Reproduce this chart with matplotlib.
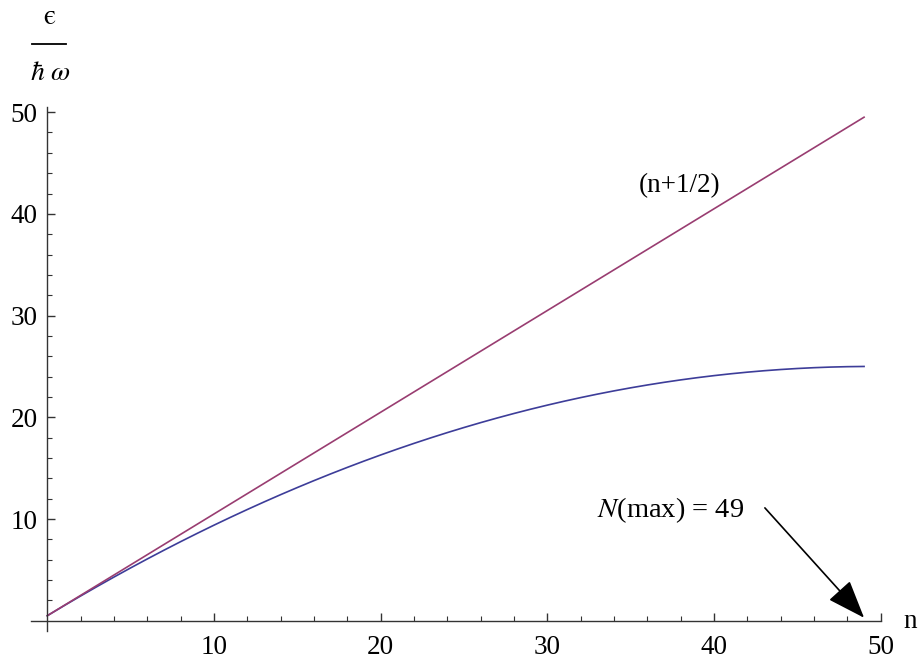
import matplotlib
matplotlib.use("Agg")
import matplotlib.pyplot as plt
from matplotlib.ticker import FixedLocator

plt.rcParams['font.family'] = ['Liberation Serif', 'DejaVu Serif']
plt.rcParams['mathtext.fontset'] = 'stix'

# Data
n_vals = list(range(0, 50))
energy_anharmonic = [0.50, 1.48, 2.44, 3.38, 4.30, 5.20, 6.08, 6.94, 7.78, 8.60,
                     9.40, 10.18, 10.94, 11.68, 12.40, 13.10, 13.78, 14.44, 15.08, 15.70,
                     16.30, 16.88, 17.44, 17.98, 18.50, 19.00, 19.48, 19.94, 20.38, 20.80,
                     21.20, 21.58, 21.94, 22.28, 22.60, 22.90, 23.18, 23.44, 23.68, 23.90,
                     24.10, 24.28, 24.44, 24.58, 24.70, 24.80, 24.88, 24.94, 24.98, 25.00]
n_linear = [0, 49]
energy_harmonic = [0.5, 49.5]
x_ticks = [10, 20, 30, 40, 50]
y_ticks = [10, 20, 30, 40, 50]

fig = plt.figure(figsize=(9.2, 6.59), dpi=100)
ax = fig.add_axes([30.6 / 920, 0.0425, 850.8 / 920, 0.7951])

ax.plot(n_vals, energy_anharmonic, color='#3d3d99', lw=1.2)
ax.plot(n_linear, energy_harmonic, color='#993d71', lw=1.2)

ax.set_xlim(-1, 50.04)
ax.set_ylim(-1, 50.5)

for s in ['top', 'right']:
    ax.spines[s].set_visible(False)
ax.spines['left'].set_position(('data', 0))
ax.spines['bottom'].set_position(('data', 0))
for s in ['left', 'bottom']:
    ax.spines[s].set_color('#333333')
    ax.spines[s].set_linewidth(1.0)

ax.xaxis.set_major_locator(FixedLocator(x_ticks))
ax.yaxis.set_major_locator(FixedLocator(y_ticks))
ax.xaxis.set_minor_locator(FixedLocator([v for v in range(2, 51, 2) if v % 10]))
ax.yaxis.set_minor_locator(FixedLocator([v for v in range(2, 51, 2) if v % 10]))
ax.tick_params(which='major', direction='in', length=6, width=1.0, color='#333333',
               labelsize=19.5)
ax.tick_params(which='minor', direction='in', length=3.5, width=0.8, color='#333333')
ax.tick_params(axis='x', which='major', pad=10)
ax.tick_params(axis='y', which='major', pad=7)

# axis labels
fig.text(910 / 920, 1 - 622 / 659, 'n', fontsize=19.5, ha='center', va='center')
fig.text(49 / 920, 1 - 17 / 659, '\u03f5', fontsize=20, ha='center', va='center',
         family=['STIXGeneral', 'DejaVu Serif'])
fig.add_artist(plt.Line2D([32 / 920, 66 / 920], [1 - 44 / 659, 1 - 44 / 659],
                          color='black', lw=1.3, transform=fig.transFigure))
fig.text(50 / 920, 1 - 74 / 659, r'$\hbar\ \omega$', fontsize=20, ha='center', va='center')

ax.text(37.95, 42.8, '(n+1/2)', fontsize=19.5, ha='center', va='center')
ax.text(32.97, 10.9, r'$N$(max) = 49', fontsize=20.5, ha='left', va='center')
ax.annotate('', xy=(49.0, 0.3), xytext=(43.05, 11.1),
            arrowprops=dict(arrowstyle='-|>,head_length=2.4,head_width=0.9',
                            color='black', lw=1.2, shrinkA=0, shrinkB=0))

fig.savefig('out.png', dpi=100)
